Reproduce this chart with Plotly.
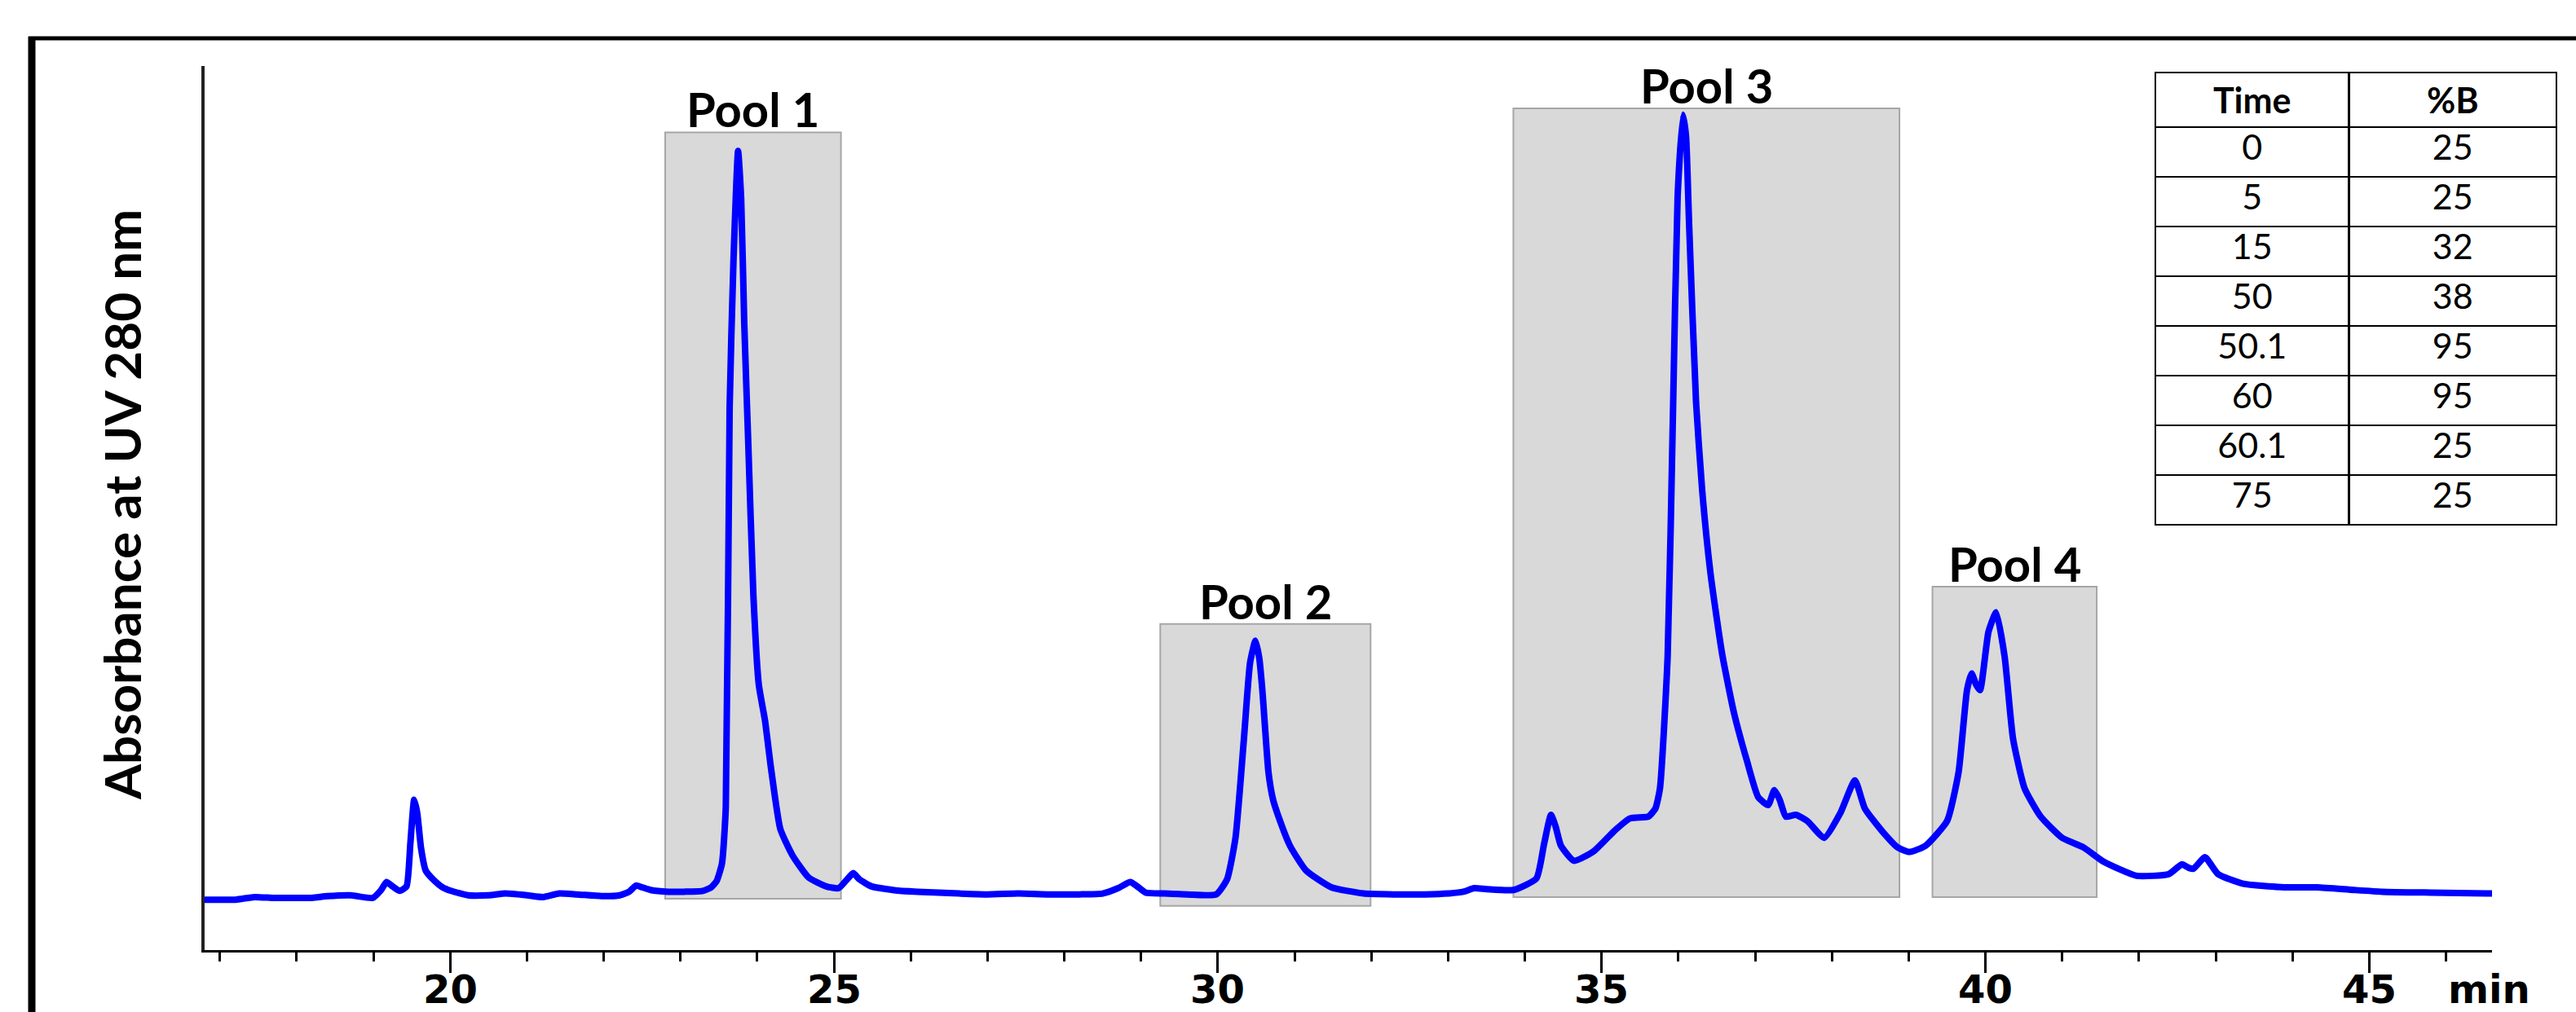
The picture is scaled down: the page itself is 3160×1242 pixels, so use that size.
import plotly.graph_objects as go

# ---------------- data ----------------
time_min = [16.8, 17.2, 17.45, 17.7, 17.95, 18.2, 18.4, 18.7, 18.99, 19.1, 19.17, 19.25, 19.34, 19.43,
            19.48, 19.53, 19.57, 19.62, 19.68, 19.8, 19.9, 20.01, 20.23, 20.5, 20.72, 21.0, 21.21, 21.42,
            21.65, 21.97, 22.21, 22.33, 22.42, 22.5, 22.61, 22.84, 23.05, 23.29, 23.4, 23.47, 23.54, 23.59,
            23.64, 23.69, 23.75, 23.79, 23.83, 23.88, 23.95, 24.02, 24.1, 24.18, 24.3, 24.46, 24.67, 24.9,
            25.06, 25.17, 25.25, 25.33, 25.49, 25.86, 26.09, 26.63, 27.0, 27.4, 27.8, 28.2, 28.5, 28.7,
            28.86, 28.95, 29.06, 29.3, 29.6, 29.98, 30.12, 30.23, 30.34, 30.42, 30.49, 30.54, 30.58, 30.66,
            30.72, 30.79, 30.94, 31.15, 31.48, 31.9, 32.3, 32.7, 33.0, 33.2, 33.34, 33.5, 33.85, 34.15,
            34.25, 34.34, 34.4, 34.47, 34.64, 34.9, 35.18, 35.37, 35.61, 35.7, 35.76, 35.86, 35.93, 35.99,
            36.06, 36.1, 36.14, 36.23, 36.31, 36.42, 36.57, 36.72, 36.89, 37.04, 37.17, 37.25, 37.32, 37.4,
            37.53, 37.68, 37.9, 38.11, 38.3, 38.43, 38.65, 38.86, 39.01, 39.22, 39.5, 39.65, 39.76, 39.82,
            39.88, 39.93, 40.04, 40.14, 40.25, 40.36, 40.51, 40.72, 41.0, 41.28, 41.54, 41.97, 42.39, 42.56,
            42.65, 42.71, 42.86, 43.03, 43.36, 43.89, 44.32, 44.8, 45.17, 45.8, 46.61]
absorbance = [-3, -3, 0, -1, -1, -1, 1, 2, -1, 8, 17, 12, 7, 12,
              60, 110, 95, 55, 30, 18, 11, 7, 2, 2, 4, 2, 0, 4,
              3, 1, 2, 6, 13, 11, 8, 6, 6, 7, 11, 18, 38, 102,
              554, 720, 844, 790, 650, 520, 340, 240, 200, 145, 77, 47, 22, 12,
              10, 20, 27, 20, 12, 7, 6, 4, 3, 4, 3, 3, 4, 10,
              17, 12, 5, 4, 3, 3, 20, 67, 179, 265, 290, 270, 234, 141,
              110, 91, 58, 30, 11, 4, 3, 3, 4, 6, 10, 9, 8, 21,
              60, 93, 80, 58, 41, 52, 76, 89, 91, 100, 123, 272, 550, 792,
              885, 860, 760, 560, 460, 365, 275, 210, 155, 113, 104, 121, 110, 91,
              93, 86, 67, 95, 132, 100, 75, 56, 51, 58, 86, 141, 234, 253,
              240, 234, 300, 322, 272, 179, 123, 91, 67, 56, 40, 24, 26, 37,
              33, 32, 45, 26, 15, 11, 11, 8, 6, 5, 4]

pool_names = ["Pool 1", "Pool 2", "Pool 3", "Pool 4"]
pool_start = [22.80, 29.25, 33.85, 39.31]
pool_end = [25.09, 31.99, 38.88, 41.45]
pool_top = [865, 309, 892, 351]
pool_bottom = [-2, -10, 0, 0]

tick_values = [20, 25, 30, 35, 40, 45]
tick_labels = ["20", "25", "30", "35", "40", "45"]
axis_unit = "min"

gradient_time = ["0", "5", "15", "50", "50.1", "60", "60.1", "75"]
gradient_pct_b = ["25", "25", "32", "38", "95", "95", "25", "25"]
table_headers = ["<b>Time</b>", "<b>%B</b>"]

y_title = "Absorbance at UV 280 nm"

# ---------------- figure ----------------
W, H = 3160, 1242
L, T, B = 251, 81, 76
plot_w = W - L
plot_h = H - T - B

def px_x(px):
    return (px - L) / plot_w

def px_y(py):
    return (H - B - py) / plot_h

fig = go.Figure()

fig.add_trace(go.Scatter(
    x=time_min, y=absorbance, mode="lines",
    line=dict(color="#0000ff", width=8, shape="spline", smoothing=0.5),
    hoverinfo="skip", showlegend=False,
))

fig.add_trace(go.Table(
    domain=dict(x=[px_x(2644), px_x(3137)], y=[px_y(690), px_y(89)]),
    columnwidth=[238, 255],
    header=dict(values=table_headers, height=61, align="center",
                fill_color="white", line=dict(color="black", width=2.5),
                font=dict(family="Lato", size=43, color="black")),
    cells=dict(values=[gradient_time, gradient_pct_b], height=61, align="center",
               fill_color="white", line=dict(color="black", width=2.5),
               font=dict(family="Lato", size=43, color="black")),
))

shapes = []
for s, e, top, bot in zip(pool_start, pool_end, pool_top, pool_bottom):
    shapes.append(dict(type="rect", xref="x", yref="y", x0=s, x1=e, y0=bot, y1=top,
                       fillcolor="#d9d9d9", line=dict(color="#a6a6a6", width=2), layer="below"))
# outer frame
shapes.append(dict(type="line", xref="paper", yref="paper", x0=px_x(35), x1=px_x(3160),
                   y0=px_y(47), y1=px_y(47), line=dict(color="black", width=5)))
shapes.append(dict(type="line", xref="paper", yref="paper", x0=px_x(39), x1=px_x(39),
                   y0=px_y(45), y1=px_y(1242), line=dict(color="black", width=9)))

annotations = []
for name, s, e, top in zip(pool_names, pool_start, pool_end, pool_top):
    annotations.append(dict(x=(s + e) / 2, y=top, xref="x", yref="y", text=f"<b>{name}</b>",
                            showarrow=False, xanchor="center", yanchor="bottom", yshift=-8,
                            font=dict(family="Lato", size=58, color="black")))
# x tick labels (placed at the tick values via the x axis)
for v, lab in zip(tick_values, tick_labels):
    annotations.append(dict(x=v, y=0, xref="x", yref="paper", text=f"<b>{lab}</b>",
                            showarrow=False, xanchor="center", yanchor="top", yshift=-18,
                            font=dict(family="DejaVu Sans", size=48, color="black")))
annotations.append(dict(x=tick_values[-1], y=0, xref="x", yref="paper", text=f"<b>{axis_unit}</b>",
                        showarrow=False, xanchor="left", yanchor="top", xshift=95, yshift=-18,
                        font=dict(family="DejaVu Sans", size=48, color="black")))
annotations.append(dict(x=px_x(149), y=px_y(620), xref="paper", yref="paper", text=f"<b>{y_title}</b>",
                        showarrow=False, textangle=-90, xanchor="center", yanchor="middle",
                        font=dict(family="Lato", size=62, color="black")))

fig.update_layout(
    width=W, height=H,
    margin=dict(l=L, r=0, t=T, b=B, pad=0),
    paper_bgcolor="white", plot_bgcolor="white",
    showlegend=False,
    shapes=shapes, annotations=annotations,
    xaxis=dict(domain=[0, px_x(3057)], range=[16.8, 46.6], showgrid=False, zeroline=False,
               showline=True, linecolor="black", linewidth=3,
               tickmode="array", tickvals=tick_values, showticklabels=False,
               ticks="outside", ticklen=25, tickwidth=3, tickcolor="black",
               minor=dict(tickmode="linear", tick0=0, dtick=1, ticks="outside", ticklen=11,
                          tickwidth=3, tickcolor="black", showgrid=False)),
    yaxis=dict(range=[-60, 940], showgrid=False, zeroline=False, showline=True,
               linecolor="#222222", linewidth=4, showticklabels=False, ticks=""),
)

fig.write_html("out.html", config={"displayModeBar": False},
               post_script="document.body.style.margin='0px';")
